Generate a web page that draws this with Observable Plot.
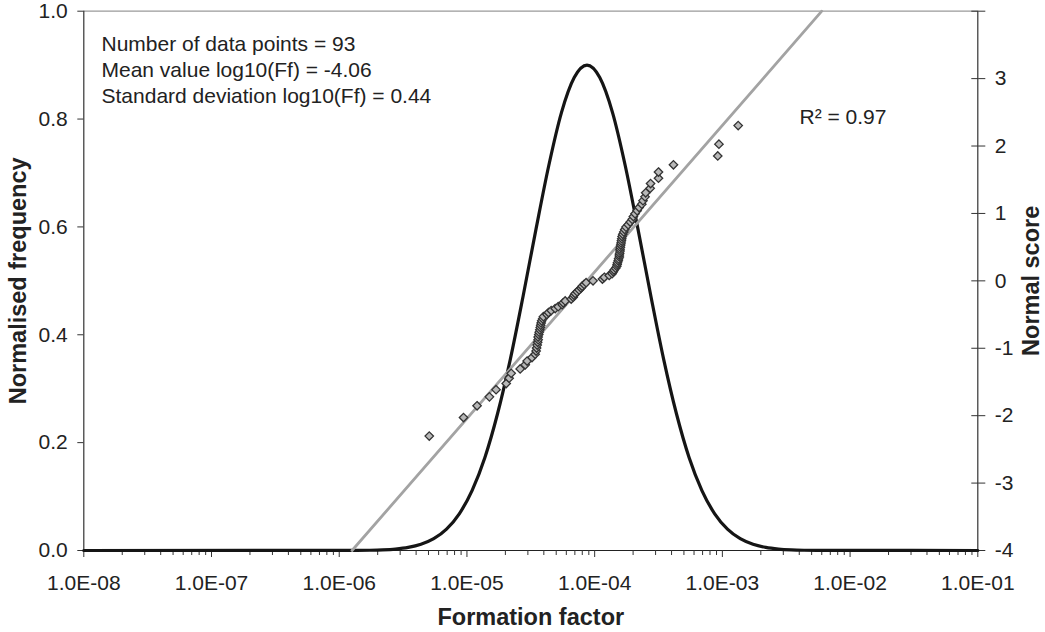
<!DOCTYPE html>
<html><head><meta charset="utf-8">
<script src="https://cdn.jsdelivr.net/npm/d3@7"></script>
<script src="https://cdn.jsdelivr.net/npm/@observablehq/plot@0.6"></script>
<style>body{margin:0;background:#fff}</style>
</head><body><div id="chart"></div>
<script>
// ---------- data ----------
const xMajorTicks = [1e-8, 1e-7, 1e-6, 1e-5, 1e-4, 1e-3, 1e-2, 1e-1];
const freqTicks = [0, 0.2, 0.4, 0.6, 0.8, 1.0];
const scoreTicks = [-4, -3, -2, -1, 0, 1, 2, 3, 4];
const scoreDomain = [-4, 4];

// normal distribution curve (log10 formation factor, normalised frequency)
const curveLogFf = [-8, -5.86, -5.76, -5.66, -5.56, -5.46, -5.36, -5.26, -5.16, -5.06, -4.96, -4.86, -4.76, -4.66, -4.56, -4.46, -4.36, -4.26, -4.16, -4.06,
  -3.96, -3.86, -3.76, -3.66, -3.56, -3.46, -3.36, -3.26, -3.16, -3.06, -2.96, -2.86, -2.76, -2.66, -2.56, -2.46, -2.36, -2.26, -1];
const curveFreq = [0, 0.0002, 0.0005, 0.0012, 0.0027, 0.0057, 0.0115, 0.0218, 0.0395, 0.068, 0.111, 0.172, 0.254, 0.355, 0.472, 0.595, 0.713, 0.812, 0.877, 0.9,
  0.877, 0.812, 0.713, 0.595, 0.472, 0.355, 0.254, 0.172, 0.111, 0.068, 0.0395, 0.0218, 0.0115, 0.0057, 0.0027, 0.0012, 0.0005, 0.0002, 0];

// measured data points: formation factor vs normal score
const formationFactor = [5.07e-6, 9.4e-6, 1.20e-5, 1.50e-5, 1.69e-5, 2.03e-5, 2.14e-5, 2.22e-5, 2.61e-5, 2.86e-5, 2.96e-5, 3.23e-5,
  3.42e-5, 3.48e-5, 3.51e-5, 3.55e-5, 3.58e-5, 3.61e-5, 3.61e-5, 3.65e-5, 3.68e-5, 3.72e-5, 3.75e-5, 3.78e-5, 3.81e-5, 3.85e-5, 3.92e-5, 3.97e-5,
  4.23e-5, 4.35e-5, 4.57e-5, 4.91e-5, 5.18e-5, 5.57e-5, 5.67e-5, 5.88e-5, 6.55e-5, 6.79e-5, 6.91e-5, 7.04e-5, 7.29e-5, 7.56e-5, 7.83e-5, 7.98e-5, 8.27e-5, 8.57e-5,
  9.71e-5, 1.15e-4, 1.19e-4, 1.30e-4, 1.37e-4,
  1.40e-4, 1.42e-4, 1.46e-4, 1.49e-4, 1.50e-4, 1.51e-4, 1.53e-4, 1.54e-4, 1.56e-4, 1.56e-4, 1.57e-4, 1.58e-4, 1.58e-4, 1.59e-4, 1.60e-4, 1.61e-4, 1.62e-4, 1.63e-4, 1.64e-4, 1.66e-4,
  1.69e-4, 1.72e-4, 1.76e-4, 1.83e-4, 1.90e-4, 1.97e-4, 2.01e-4, 2.07e-4, 2.15e-4, 2.23e-4, 2.34e-4, 2.39e-4, 2.48e-4, 2.51e-4, 2.72e-4, 2.74e-4, 3.16e-4, 3.16e-4, 4.14e-4,
  9.2e-4, 9.4e-4, 1.33e-3];
const normalScore = [-2.303, -2.028, -1.853, -1.721, -1.614, -1.523, -1.443, -1.372, -1.306, -1.246, -1.190, -1.138,
  -1.088, -1.041, -0.996, -0.953, -0.912, -0.872, -0.834, -0.797, -0.761, -0.726, -0.691, -0.658, -0.625, -0.593, -0.562, -0.531,
  -0.500, -0.470, -0.441, -0.411, -0.383, -0.354, -0.326, -0.298, -0.270, -0.243, -0.215, -0.188, -0.161, -0.134, -0.107, -0.080, -0.053, -0.027,
  0, 0.027, 0.053, 0.080, 0.107,
  0.134, 0.161, 0.188, 0.215, 0.243, 0.270, 0.298, 0.326, 0.354, 0.383, 0.411, 0.441, 0.470, 0.500, 0.531, 0.562, 0.593, 0.625, 0.658, 0.691,
  0.726, 0.761, 0.797, 0.834, 0.872, 0.912, 0.953, 0.996, 1.041, 1.088, 1.138, 1.190, 1.246, 1.306, 1.372, 1.443, 1.523, 1.614, 1.721,
  1.853, 2.028, 2.303];

// regression line end points (formation factor, normal score)
const regressionFf = [1.26e-6, 6.0e-3];
const regressionScore = [-4, 4];

const annotationText = "Number of data points = 93\nMean value log10(Ff) = -4.06\nStandard deviation log10(Ff) = 0.44";
const r2Text = "R\u00B2 = 0.97";
const xTitle = "Formation factor";
const yLeftTitle = "Normalised frequency";
const yRightTitle = "Normal score";

// ---------- build ----------
const toFrac = s => (s - scoreDomain[0]) / (scoreDomain[1] - scoreDomain[0]);
const curve = curveLogFf.map((l, i) => ({x: Math.pow(10, l), y: curveFreq[i]}));
const points = formationFactor.map((f, i) => ({x: f, y: toFrac(normalScore[i])}));
const reg = regressionFf.map((f, i) => ({x: f, y: toFrac(regressionScore[i])}));
const minorTicks = [];
for (let k = -8; k <= -2; k++) for (let m = 2; m <= 9; m++) minorTicks.push(m * Math.pow(10, k));
const fmtX = d => "1.0E-" + String(Math.round(-Math.log10(d))).padStart(2, "0");
const fmtScore = v => { const s = Math.round(v * 8 - 4); return s === 4 ? "" : String(s); };

const chart = Plot.plot({
  width: 1045, height: 632,
  marginLeft: 83.3, marginRight: 67.7, marginTop: 10.7, marginBottom: 82,
  style: {fontFamily: '"Liberation Sans", Arial, sans-serif', fontSize: "21px", background: "#fff", color: "#222"},
  x: {type: "log", domain: [1e-8, 1e-1]},
  y: {domain: [0, 1]},
  marks: [
    Plot.ruleY([1], {stroke: "#9a9a9a", strokeWidth: 1.2}),
    Plot.ruleX([1e-8], {stroke: "#333", strokeWidth: 1.2}),
    Plot.ruleX([1e-1], {stroke: "#333", strokeWidth: 1.2}),
    Plot.ruleY([0], {stroke: "#222", strokeWidth: 1.2}),
    Plot.axisX({ticks: xMajorTicks, tickSize: 7, tickPadding: 18, tickFormat: fmtX, label: null, stroke: "#333", fill: "#222"}),
    Plot.axisX({ticks: minorTicks, tickSize: 5, tickFormat: () => "", label: null, stroke: "#333"}),
    Plot.axisY({ticks: freqTicks, tickSize: 6, tickPadding: 10, tickFormat: d3.format(".1f"), label: null, stroke: "#333", fill: "#222"}),
    Plot.axisY({anchor: "right", ticks: scoreTicks.map(toFrac), tickSize: 7, tickPadding: 10, tickFormat: fmtScore, label: null, stroke: "#333", fill: "#222"}),
    Plot.axisY({anchor: "right", ticks: scoreTicks.map(toFrac), tickSize: 7, dx: -7, tickFormat: () => "", label: null, stroke: "#333"}),
    Plot.line(curve, {x: "x", y: "y", curve: "monotone-x", stroke: "#151515", strokeWidth: 3.2}),
    Plot.line(reg, {x: "x", y: "y", stroke: "#a3a3a3", strokeWidth: 2.8}),
    Plot.dot(points, {x: "x", y: "y", symbol: "diamond2", r: 3.8, fill: "#b8b8b8", stroke: "#333", strokeWidth: 1.3}),
    Plot.text([annotationText], {frameAnchor: "top-left", dx: 17.7, dy: 21, textAnchor: "start", lineAnchor: "top", lineHeight: 1.24, fill: "#222"}),
    Plot.text([r2Text], {frameAnchor: "top-left", dx: 715.7, dy: 97.5, textAnchor: "start", lineAnchor: "top", fill: "#222"}),
    Plot.text([xTitle], {frameAnchor: "bottom", dy: 67, textAnchor: "middle", lineAnchor: "middle", fontWeight: "bold", fontSize: 23.5, fill: "#222"}),
    Plot.text([yLeftTitle], {frameAnchor: "left", dx: -65, rotate: -90, textAnchor: "middle", lineAnchor: "middle", fontWeight: "bold", fontSize: 23.5, fill: "#222"}),
    Plot.text([yRightTitle], {frameAnchor: "right", dx: 54, rotate: -90, textAnchor: "middle", lineAnchor: "middle", fontWeight: "bold", fontSize: 23.5, fill: "#222"})
  ]
});
document.getElementById("chart").appendChild(chart);
</script>
</body></html>
